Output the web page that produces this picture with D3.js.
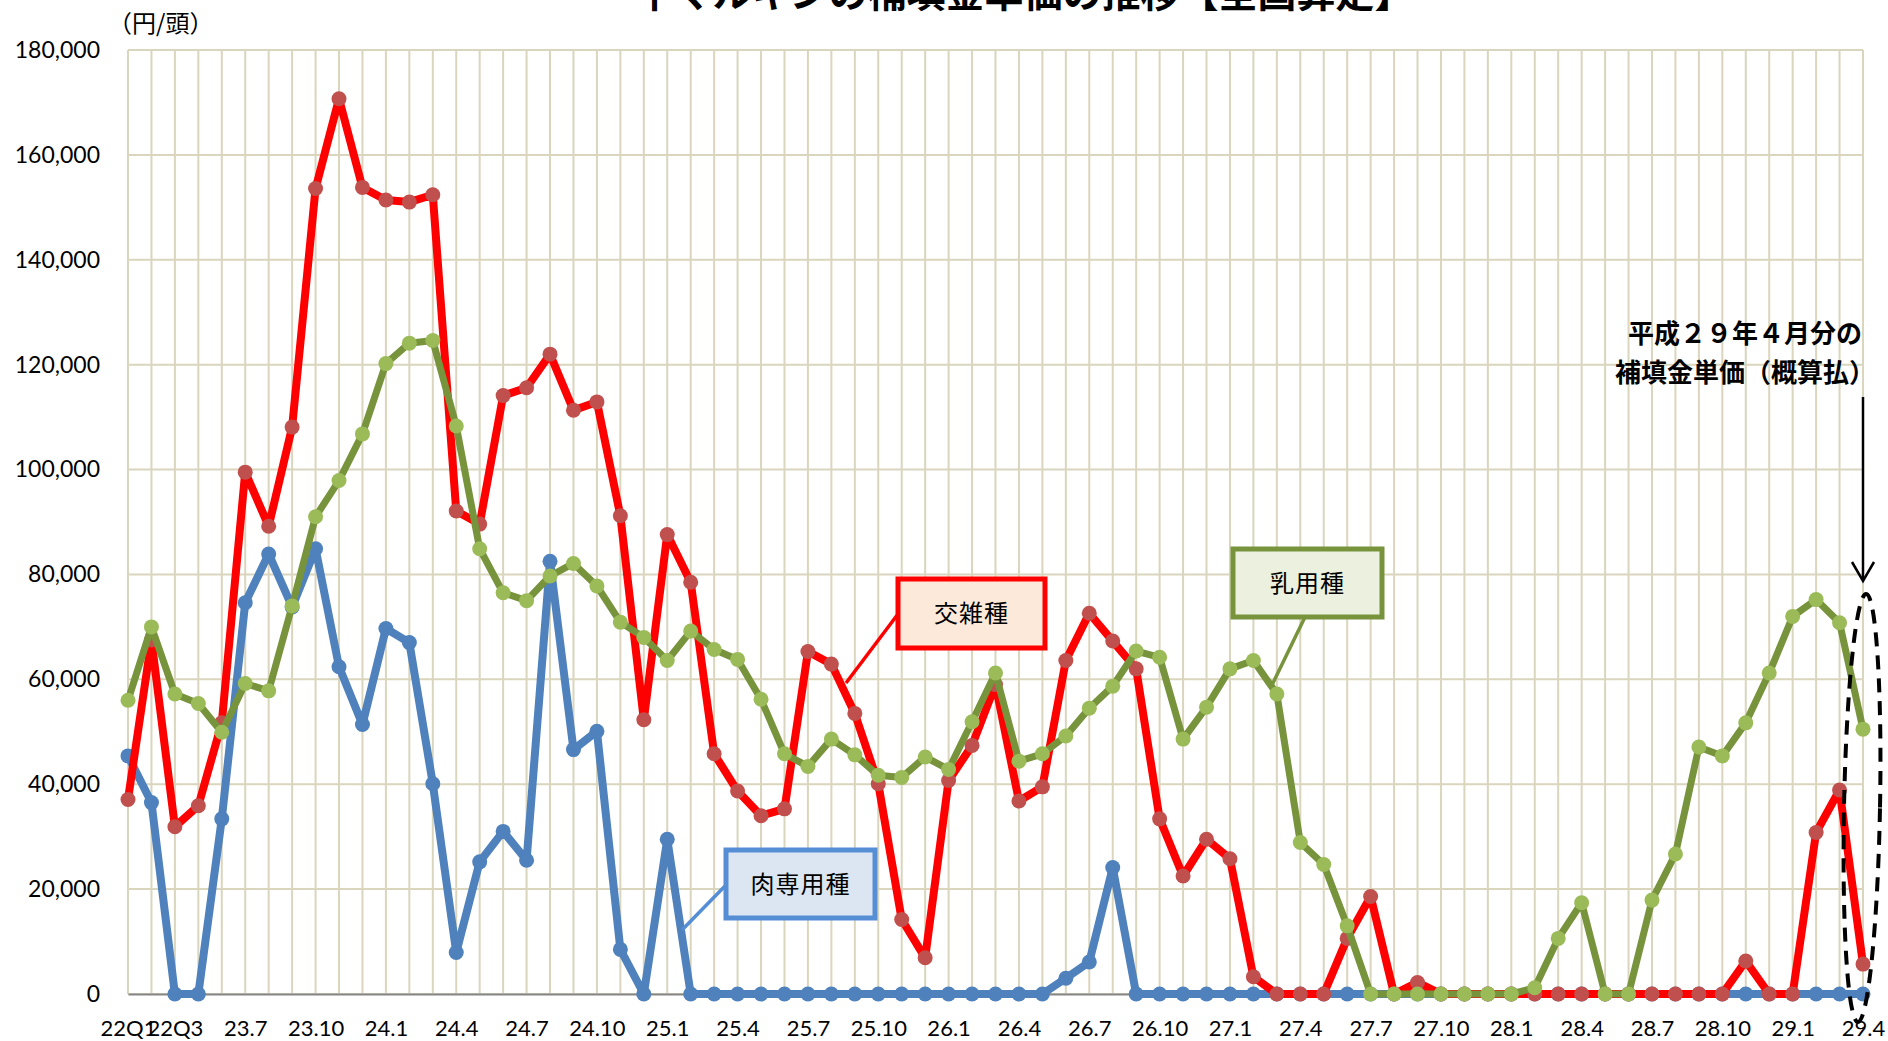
<!DOCTYPE html>
<html>
<head>
<meta charset="utf-8">
<script src="https://cdn.jsdelivr.net/npm/d3@7"></script>
<style>
  body { margin: 0; background: #fff; }
  svg { display: block; }
</style>
</head>
<body>
<div id="chart"></div>
<script>
// categories: H22 quarters, H23 Q1, then monthly from H23.7 to H29.4
const categories = [
  '22Q1', '22Q2', '22Q3', '22Q4', '23Q1',
  '23.7', '23.8', '23.9', '23.10', '23.11', '23.12',
  '24.1', '24.2', '24.3', '24.4', '24.5', '24.6', '24.7', '24.8', '24.9', '24.10', '24.11', '24.12',
  '25.1', '25.2', '25.3', '25.4', '25.5', '25.6', '25.7', '25.8', '25.9', '25.10', '25.11', '25.12',
  '26.1', '26.2', '26.3', '26.4', '26.5', '26.6', '26.7', '26.8', '26.9', '26.10', '26.11', '26.12',
  '27.1', '27.2', '27.3', '27.4', '27.5', '27.6', '27.7', '27.8', '27.9', '27.10', '27.11', '27.12',
  '28.1', '28.2', '28.3', '28.4', '28.5', '28.6', '28.7', '28.8', '28.9', '28.10', '28.11', '28.12',
  '29.1', '29.2', '29.3', '29.4'
];

const tickLabels = [
  '22Q1', '22Q3', '23.7', '23.10', '24.1', '24.4', '24.7', '24.10', '25.1', '25.4', '25.7', '25.10',
  '26.1', '26.4', '26.7', '26.10', '27.1', '27.4', '27.7', '27.10', '28.1', '28.4', '28.7', '28.10',
  '29.1', '29.4'
];

const yTicks = [0, 20000, 40000, 60000, 80000, 100000, 120000, 140000, 160000, 180000];

// 肉専用種
const beefValues = [
  45400, 36500, 0, 0, 33400,
  74600, 83900, 73800, 84900, 62400, 51400,
  69700, 67000, 40100, 7900, 25200, 31000, 25500, 82500, 46600, 50100, 8500, 0,
  29500, 0, 0, 0, 0, 0, 0, 0, 0, 0, 0, 0,
  0, 0, 0, 0, 0, 3000, 6100, 24100, 0, 0, 0, 0,
  0, 0, 0, 0, 0, 0, 0, 0, 0, 0, 0, 0,
  0, 0, 0, 0, 0, 0, 0, 0, 0, 0, 0, 0,
  0, 0, 0, 0
];

// 交雑種
const crossValues = [
  37100, 67500, 31900, 35900, 51700,
  99500, 89200, 108100, 153600, 170700, 153800,
  151400, 151000, 152400, 92100, 89600, 114100, 115600, 122000, 111300, 112900, 91200, 52300,
  87600, 78500, 45800, 38700, 34000, 35300, 65300, 62900, 53500, 40100, 14200, 6900,
  40700, 47400, 59000, 36800, 39500, 63600, 72600, 67300, 62000, 33400, 22500, 29500,
  25800, 3300, 0, 0, 0, 10600, 18600, 0, 2200, 0, 0, 0,
  0, 0, 0, 0, 0, 0, 0, 0, 0, 0, 6300, 0,
  0, 30800, 38900, 5700
];

// 乳用種
const dairyValues = [
  56000, 70000, 57200, 55400, 49900,
  59200, 57800, 74000, 91000, 97900, 106800,
  120200, 124100, 124600, 108300, 84900, 76500, 75000, 79700, 82100, 77800, 70900, 68000,
  63600, 69200, 65700, 63800, 56200, 45800, 43400, 48600, 45600, 41700, 41300, 45200,
  42800, 51900, 61200, 44400, 45800, 49200, 54500, 58700, 65400, 64200, 48600, 54700,
  62000, 63600, 57200, 28900, 24700, 13000, 0, 0, 0, 0, 0, 0,
  0, 1200, 10600, 17400, 0, 0, 17900, 26700, 47100, 45400, 51700, 61200,
  72000, 75200, 70800, 50500
];

const width = 1888;
const height = 1041;
const jpFont = '"Noto Sans CJK JP", "Noto Sans CJK SC", sans-serif';
const numFont = 'Lato, "Open Sans", sans-serif';

const svg = d3.select('#chart')
  .append('svg')
  .attr('width', width)
  .attr('height', height)
  .style('background', '#fff');

const x = d3.scalePoint()
  .domain(categories)
  .range([128, 1863]);

const y = d3.scaleLinear()
  .domain([0, 180000])
  .range([994, 50]);

// grid
const grid = svg.append('g').attr('class', 'grid');
grid.selectAll('.vgrid')
  .data(categories)
  .enter()
  .append('line')
  .attr('x1', d => x(d))
  .attr('x2', d => x(d))
  .attr('y1', y(180000))
  .attr('y2', y(0))
  .attr('stroke', '#DAD5BD')
  .attr('stroke-width', 2);

grid.selectAll('.hgrid')
  .data(yTicks)
  .enter()
  .append('line')
  .attr('x1', x.range()[0])
  .attr('x2', x.range()[1])
  .attr('y1', d => y(d))
  .attr('y2', d => y(d))
  .attr('stroke', '#DAD5BD')
  .attr('stroke-width', 2);

// y axis labels
const yAxis = d3.axisLeft(y)
  .tickValues(yTicks)
  .tickFormat(d3.format(','))
  .tickSize(0)
  .tickPadding(28);

svg.append('g')
  .attr('transform', `translate(${x.range()[0]},0)`)
  .call(yAxis)
  .call(g => g.select('.domain').remove())
  .selectAll('text')
  .attr('font-family', numFont)
  .attr('font-size', 23)
  .attr('fill', '#000');

// x axis
const xAxis = d3.axisBottom(x)
  .tickValues(tickLabels)
  .tickSize(0)
  .tickPadding(26);

svg.append('g')
  .attr('transform', `translate(0,${y(0)})`)
  .call(xAxis)
  .call(g => g.select('.domain')
    .attr('stroke', '#868686')
    .attr('stroke-width', 2))
  .selectAll('text')
  .attr('font-family', numFont)
  .attr('font-size', 22)
  .attr('fill', '#000');

// unit label
svg.append('text')
  .attr('x', 108)
  .attr('y', 32)
  .attr('font-family', jpFont)
  .attr('font-size', 24)
  .attr('fill', '#000')
  .text('（円/頭）');

// title (partly cut off at top)
svg.append('text')
  .attr('x', 1024)
  .attr('y', 7)
  .attr('text-anchor', 'middle')
  .attr('font-family', jpFont)
  .attr('font-weight', 700)
  .attr('font-size', 39)
  .attr('fill', '#000')
  .text('牛マルキンの補填金単価の推移【全国算定】');

// series
const series = [
  { name: '肉専用種', values: beefValues, line: '#4F81BD', marker: '#4F81BD', width: 8 },
  { name: '交雑種', values: crossValues, line: '#FF0000', marker: '#C0504D', width: 8 },
  { name: '乳用種', values: dairyValues, line: '#77933C', marker: '#9BBB59', width: 7 }
];

const line = d3.line()
  .x((d, i) => x(categories[i]))
  .y(d => y(d));

series.forEach(s => {
  const g = svg.append('g').attr('class', 'series');
  g.append('path')
    .datum(s.values)
    .attr('d', line)
    .attr('fill', 'none')
    .attr('stroke', s.line)
    .attr('stroke-width', s.width)
    .attr('stroke-linejoin', 'round');

  g.selectAll('circle')
    .data(s.values)
    .enter()
    .append('circle')
    .attr('cx', (d, i) => x(categories[i]))
    .attr('cy', d => y(d))
    .attr('r', 7.5)
    .attr('fill', s.marker);
});

// callouts
const callouts = [
  { text: '交雑種', box: [898, 579, 147, 69], from: [898, 614], to: [846, 683], stroke: '#FF0000', fill: '#FDE9D9' },
  { text: '乳用種', box: [1233, 549, 149, 68], from: [1305, 617], to: [1272, 685], stroke: '#77933C', fill: '#EBF1DE' },
  { text: '肉専用種', box: [726, 850, 149, 68], from: [726, 885], to: [682, 930], stroke: '#558ED5', fill: '#DCE6F2' }
];

callouts.forEach(c => {
  const g = svg.append('g').attr('class', 'callout');
  g.append('line')
    .attr('x1', c.from[0]).attr('y1', c.from[1])
    .attr('x2', c.to[0]).attr('y2', c.to[1])
    .attr('stroke', c.stroke)
    .attr('stroke-width', 3.5);
  g.append('rect')
    .attr('x', c.box[0]).attr('y', c.box[1])
    .attr('width', c.box[2]).attr('height', c.box[3])
    .attr('fill', c.fill)
    .attr('stroke', c.stroke)
    .attr('stroke-width', 5);
  g.append('text')
    .attr('x', c.box[0] + c.box[2] / 2)
    .attr('y', c.box[1] + c.box[3] / 2)
    .attr('dy', '0.36em')
    .attr('text-anchor', 'middle')
    .attr('font-family', jpFont)
    .attr('font-size', 24)
    .attr('letter-spacing', 1)
    .attr('fill', '#000')
    .text(c.text);
});

// note on the last month
const note = svg.append('g').attr('class', 'note');
note.selectAll('text')
  .data(['平成２９年４月分の', '補填金単価（概算払）'])
  .enter()
  .append('text')
  .attr('x', 1745)
  .attr('y', (d, i) => 343 + i * 39)
  .attr('text-anchor', 'middle')
  .attr('font-family', jpFont)
  .attr('font-weight', 700)
  .attr('font-size', 26)
  .attr('fill', '#000')
  .text(d => d);

const lastX = x(categories[categories.length - 1]);
note.append('line')
  .attr('x1', lastX).attr('y1', 397)
  .attr('x2', lastX).attr('y2', 580)
  .attr('stroke', '#000')
  .attr('stroke-width', 2.5);
note.append('path')
  .attr('d', `M${lastX - 11},562 L${lastX},581 L${lastX + 11},562`)
  .attr('fill', 'none')
  .attr('stroke', '#000')
  .attr('stroke-width', 2.5);

note.append('ellipse')
  .attr('cx', lastX - 1)
  .attr('cy', 808)
  .attr('rx', 18)
  .attr('ry', 214)
  .attr('transform', `rotate(1.1,${lastX - 1},808)`)
  .attr('fill', 'none')
  .attr('stroke', '#000')
  .attr('stroke-width', 4)
  .attr('stroke-dasharray', '14 9');
</script>
</body>
</html>
